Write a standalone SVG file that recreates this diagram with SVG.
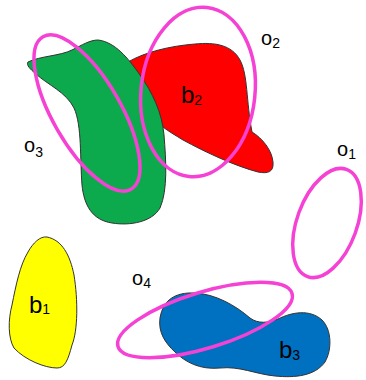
<svg xmlns="http://www.w3.org/2000/svg" width="366" height="380" viewBox="0 0 366 380">
<style>
.blob{stroke:#333;stroke-width:1}
.ell{fill:none;stroke:#f542d4;stroke-width:3.5}
text{font-family:"Liberation Sans",Arial,sans-serif;fill:#000}
.b{font-size:24px}
.o{font-size:20px}
.s{font-size:14px}
</style>
<rect width="366" height="380" fill="#fff"/>
<g id="b2">
<path class="blob" fill="#ff0000" d="M128,62 C145,52 170,46 195,44 C215,42 232,45 240,60 C248,75 246,100 252,132 C262,138 272,150 273,162 C274,172 268,174 258,172 C235,166 205,152 183,140 C175,135 168,131 163,127 L140,90 Z"/>
</g>
<g id="b4">
<path class="blob" fill="#0caa4c" d="M28,62 C40,56 60,56 72,50 C82,45 90,40 98,40 C115,42 128,58 140,75 C152,92 162,112 164,135 C166,160 168,190 160,208 C152,222 130,226 112,223 C92,220 84,205 82,185 C80,160 82,125 74,108 C66,92 48,85 36,74 C30,69 26,65 28,62 Z"/>
</g>
<g id="b1">
<path class="blob" fill="#ffff00" d="M47,237 C62,240 70,255 74,275 C78,300 78,330 72,345 C68,360 65,368 57,368 C45,368 25,360 14,348 C8,338 8,320 12,305 C16,285 20,265 28,252 C33,243 40,236 47,237 Z"/>
<text class="b" x="29" y="313">b<tspan class="s" dy="1">1</tspan></text>
</g>
<g id="b3">
<path class="blob" fill="#0070c0" d="M160,318 C163,300 175,292 195,293 C215,294 235,305 250,318 C258,324 268,323 278,319 C292,312 310,309 322,320 C332,330 332,350 325,362 C315,376 295,378 275,376 C255,374 240,366 220,368 C200,370 185,362 175,352 C165,343 158,332 160,318 Z"/>
<text class="b" x="279" y="358">b<tspan class="s" dy="2">3</tspan></text>
</g>
<g id="b2label">
<text class="b" x="181" y="103">b<tspan class="s" dy="2">2</tspan></text>
</g>
<g id="o2">
<ellipse class="ell" cx="198" cy="92" rx="57" ry="85" transform="rotate(6 198 92)"/>
<text class="o" x="261" y="45">o<tspan class="s" dy="3">2</tspan></text>
</g>
<g id="o3">
<ellipse class="ell" cx="87" cy="113" rx="34" ry="88" transform="rotate(-30 87 113)"/>
<text class="o" x="24" y="152">o<tspan class="s" dy="5">3</tspan></text>
</g>
<g id="o1">
<ellipse class="ell" cx="327" cy="223" rx="30" ry="57" transform="rotate(20 327 223)"/>
<text class="o" x="337" y="156">o<tspan class="s" dy="3">1</tspan></text>
</g>
<g id="o4">
<ellipse class="ell" cx="205" cy="320" rx="91" ry="28" transform="rotate(-17 205 320)"/>
<text class="o" x="132" y="285">o<tspan class="s" dy="3">4</tspan></text>
</g>
<g id="connectors"></g>
</svg>
